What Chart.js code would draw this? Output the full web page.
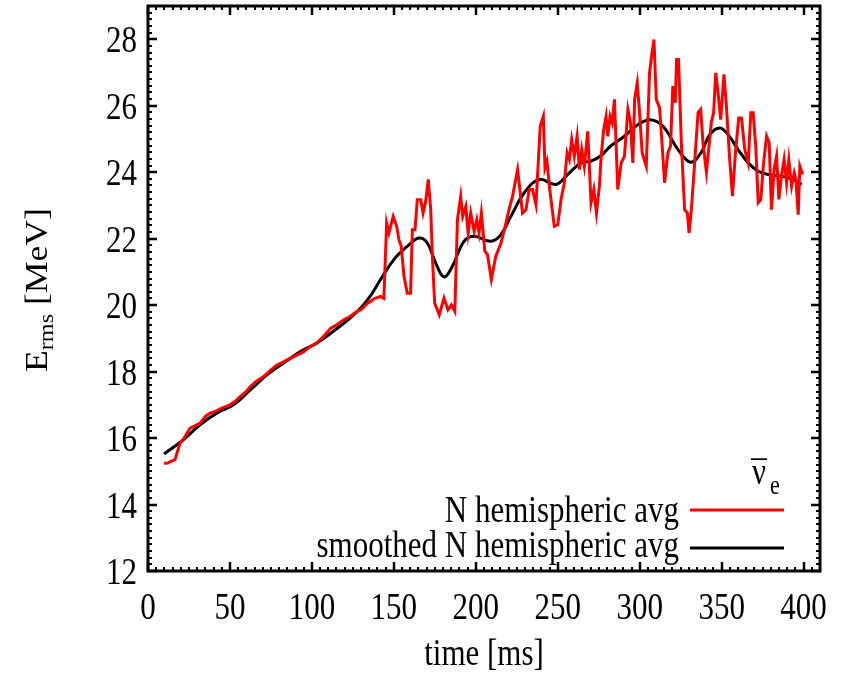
<!DOCTYPE html>
<html>
<head>
<meta charset="utf-8">
<title>E_rms vs time</title>
<script src="https://cdn.jsdelivr.net/npm/chart.js@4.4.0/dist/chart.umd.min.js"></script>
<style>
  html, body { margin: 0; padding: 0; background: #ffffff; }
  #wrap { width: 848px; height: 678px; }
</style>
</head>
<body>
<div id="wrap"><canvas id="c" width="848" height="678"></canvas></div>
<script>
// North hemispheric average of the anti-electron-neutrino rms energy
const redTime = [
  9.8, 12, 14, 16.5, 18, 19.6, 22, 25.7, 28, 31.8, 35, 37.9, 41, 45, 50, 53, 56.3, 60, 62.4, 66,
  70.5, 75, 78.7, 83, 86.8, 91, 95, 99, 103, 107, 111.3, 115, 119.5, 123, 127.6, 130, 133.8, 135.8, 138, 141.9,
  143.9, 145.6, 147, 149.6, 151.7, 153.1, 154.5, 156.2, 158.2, 160.2, 161.3, 162.9, 164.3, 166.4, 167.8, 169.4, 171, 172.5, 173.5, 174.9,
  177.7, 180.6, 183, 185.1, 187.2, 188.8, 190.8, 192, 193.9, 195.3, 196.9, 199, 200.6, 202, 203.4, 205.5, 207.1, 209.5, 212.2, 215.3,
  218.3, 220.4, 222.4, 225.5, 228.5, 230.6, 232.6, 234.6, 236.7, 239.3, 241.2, 242.2, 243.4, 245.1, 247.9, 250, 252, 254, 255.7, 257.1,
  258.5, 260.1, 261.8, 263.2, 264.6, 266.2, 268.3, 270.3, 272, 273.6, 275.4, 276.5, 278, 279.5, 280.5, 281.9, 283.2, 284.6, 286.6, 288.7,
  290.7, 292.8, 294.4, 295.8, 296.9, 298.5, 299.9, 301.5, 304, 306, 307.5, 308.7, 310.1, 312.1, 313.6, 315.2, 317.2, 318.8, 320.2, 321.7,
  322.5, 323.7, 325.4, 327.4, 329.1, 330.1, 331.5, 333.1, 334.6, 335.6, 337.2, 338.6, 340.7, 342.1, 343.7, 345.1, 346.4, 347.8, 349.4, 351.4,
  352.9, 354.9, 356.6, 358.4, 360.4, 362.1, 364.1, 366.2, 367.8, 369.2, 370.8, 372.3, 373.9, 375.4, 377.4, 379, 380.4, 382, 383.5, 384.9,
  386.5, 388.1, 389.6, 391, 392.7, 394.3, 395.3, 396.7, 397.7, 399.4
];
const redEnergy = [
  15.24, 15.25, 15.3, 15.36, 15.6, 15.85, 16.0, 16.3, 16.35, 16.45, 16.65, 16.75, 16.8, 16.9, 17.0, 17.1, 17.25, 17.4, 17.55, 17.7,
  17.85, 18.05, 18.2, 18.3, 18.4, 18.5, 18.6, 18.75, 18.86, 19.05, 19.3, 19.4, 19.56, 19.65, 19.81, 19.86, 20.05, 20.11, 20.2, 20.26,
  20.2, 22.47, 22.17, 22.67, 22.37, 21.97, 21.77, 20.86, 20.36, 20.36, 22.27, 22.27, 23.17, 23.17, 22.77, 23.12, 23.78, 22.87, 21.47, 20.06,
  19.71, 20.21, 19.86, 20.01, 19.81, 22.57, 23.27, 22.67, 22.97, 22.17, 22.77, 22.22, 22.57, 22.17, 22.77, 21.62, 21.52, 20.77, 21.47, 21.85,
  22.45, 22.9, 23.27, 24.08, 22.77, 22.87, 23.48, 23.48, 23.02, 25.38, 25.68, 24.13, 24.33, 23.48, 22.37, 22.42, 23.17, 23.68, 24.58, 24.38,
  24.98, 24.48, 25.08, 24.08, 24.68, 24.18, 25.23, 23.08, 23.48, 22.77, 23.58, 24.48, 25.28, 25.68, 25.08, 25.68, 25.48, 26.19, 23.48, 24.28,
  24.48, 25.89, 25.48, 24.28, 26.19, 26.69, 25.79, 24.58, 24.18, 26.99, 27.59, 27.99, 26.19, 25.94, 24.88, 23.68, 24.58, 24.78, 26.59, 26.09,
  27.39, 27.39, 24.88, 22.87, 22.77, 22.17, 22.87, 23.98, 25.08, 25.79, 25.89, 24.88, 24.0, 24.7, 25.5, 25.79, 26.99, 26.39, 25.58, 26.94,
  25.98, 24.38, 23.28, 24.58, 25.63, 25.63, 24.68, 24.28, 25.79, 25.79, 24.78, 23.08, 23.18, 24.18, 25.08, 24.88, 22.87, 24.08, 24.48, 23.18,
  23.88, 24.38, 23.68, 24.38, 23.58, 23.98, 23.78, 22.72, 24.18, 23.93
];

// Smoothed version of the same average
const smoothTime = [
  9.8, 21.6, 31.8, 42, 52.2, 62.4, 72.6, 82.8, 93, 103, 113, 123.5, 130.5, 136, 141.9, 150, 158.2, 165.3, 170.4, 175.5,
  180.6, 185.7, 192.8, 199, 209.2, 215.3, 221.4, 229.6, 238.7, 248.9, 256, 264.2, 270.3, 276.5, 282.1, 290.7, 298.8, 306.6, 314.2, 323.4,
  331.1, 337.6, 342.7, 348.8, 353.9, 360, 366.2, 372.3, 378.4, 386.5, 392.7, 398.8
];
const smoothEnergy = [
  15.52, 15.95, 16.4, 16.75, 17.0, 17.45, 17.9, 18.26, 18.6, 18.86, 19.21, 19.62, 19.95, 20.3, 20.77, 21.37, 21.77, 22.02, 21.87, 21.27,
  20.85, 21.17, 21.92, 22.07, 21.92, 22.12, 22.67, 23.38, 23.78, 23.63, 23.93, 24.28, 24.33, 24.5, 24.78, 25.08, 25.43, 25.58, 25.38, 24.68,
  24.3, 24.6, 25.13, 25.33, 25.13, 24.68, 24.28, 24.03, 23.93, 23.88, 23.8, 23.63
];

const seriesLabels = ['N hemispheric avg', 'smoothed N hemispheric avg'];
const xTickValues = [0, 50, 100, 150, 200, 250, 300, 350, 400];
const yTickValues = [12, 14, 16, 18, 20, 22, 24, 26, 28];
const xAxisTitle = 'time [ms]';
const yAxisTitle = { main: 'E', sub: 'rms', rest: ' [MeV]' };
const speciesLabel = { main: '\u03BD', bar: '\u00AF', sub: 'e' };

const FONT = '"Liberation Serif", "Times New Roman", serif';
const STRETCH = 1.25;

function toPoints(xs, ys) {
  return xs.map((x, i) => ({ x: x, y: ys[i] }));
}

function tallText(ctx, txt, x, y, align, size) {
  ctx.save();
  ctx.font = size + 'px ' + FONT;
  ctx.textAlign = align;
  ctx.textBaseline = 'alphabetic';
  ctx.translate(x, y);
  ctx.scale(1, STRETCH);
  ctx.fillText(txt, 0, 0);
  ctx.restore();
}

// gnuplot-style frame: thick border, inward major/minor ticks on all four sides,
// serif tick labels, axis titles and a right-aligned key
const framePlugin = {
  id: 'frame',
  afterDatasetsDraw(chart) {
    const ctx = chart.ctx;
    const a = chart.chartArea;
    const xs = chart.scales.x;
    const ys = chart.scales.y;
    ctx.save();
    ctx.strokeStyle = '#000';
    ctx.lineCap = 'butt';

    // minor ticks
    ctx.lineWidth = 2;
    ctx.beginPath();
    for (let v = xs.min; v <= xs.max + 1e-9; v += 5) {
      const p = Math.round(xs.getPixelForValue(v));
      ctx.moveTo(p, a.bottom); ctx.lineTo(p, a.bottom - 4);
      ctx.moveTo(p, a.top); ctx.lineTo(p, a.top + 4);
    }
    for (let v = ys.min; v <= ys.max + 1e-9; v += 0.2) {
      const p = Math.round(ys.getPixelForValue(v));
      ctx.moveTo(a.left, p); ctx.lineTo(a.left + 4, p);
      ctx.moveTo(a.right, p); ctx.lineTo(a.right - 4, p);
    }
    ctx.stroke();

    // major ticks
    ctx.lineWidth = 2.5;
    ctx.beginPath();
    xs.ticks.forEach(t => {
      const p = Math.round(xs.getPixelForValue(t.value));
      ctx.moveTo(p, a.bottom); ctx.lineTo(p, a.bottom - 9);
      ctx.moveTo(p, a.top); ctx.lineTo(p, a.top + 9);
    });
    ys.ticks.forEach(t => {
      const p = Math.round(ys.getPixelForValue(t.value));
      ctx.moveTo(a.left, p); ctx.lineTo(a.left + 9, p);
      ctx.moveTo(a.right, p); ctx.lineTo(a.right - 9, p);
    });
    ctx.stroke();

    // border
    ctx.lineWidth = 3;
    ctx.strokeRect(a.left, a.top, a.right - a.left, a.bottom - a.top);

    // tick labels
    ctx.fillStyle = '#000';
    xs.ticks.forEach(t => {
      tallText(ctx, String(t.value), xs.getPixelForValue(t.value), 619, 'center', 31);
    });
    ys.ticks.forEach(t => {
      tallText(ctx, String(t.value), 137, ys.getPixelForValue(t.value) + 13, 'right', 31);
    });

    // x title
    tallText(ctx, xAxisTitle, (a.left + a.right) / 2, 665, 'center', 31);

    // y title with subscript, rotated
    ctx.save();
    ctx.translate(47, 290);
    ctx.rotate(-Math.PI / 2);
    ctx.scale(1.15, 1);
    ctx.textBaseline = 'alphabetic';
    ctx.textAlign = 'left';
    ctx.font = '31px ' + FONT;
    const wMain = ctx.measureText(yAxisTitle.main).width;
    const wRest = ctx.measureText(yAxisTitle.rest).width;
    ctx.font = '21px ' + FONT;
    const wSub = ctx.measureText(yAxisTitle.sub).width;
    let sx = -(wMain + wSub + wRest) / 2;
    ctx.font = '31px ' + FONT;
    ctx.fillText(yAxisTitle.main, sx, 0);
    sx += wMain;
    ctx.font = '21px ' + FONT;
    ctx.fillText(yAxisTitle.sub, sx, 6);
    sx += wSub;
    ctx.font = '31px ' + FONT;
    ctx.fillText(yAxisTitle.rest, sx, 0);
    ctx.restore();

    // key
    const ds = chart.data.datasets;
    const keyRows = [
      { text: ds[0].label, color: ds[0].borderColor, width: 3, base: 522, line: 510 },
      { text: ds[1].label, color: ds[1].borderColor, width: 3, base: 557, line: 548 }
    ];
    keyRows.forEach(r => {
      tallText(ctx, r.text, 679, r.base, 'right', 31);
      ctx.strokeStyle = r.color;
      ctx.lineWidth = r.width;
      ctx.beginPath();
      ctx.moveTo(690, r.line);
      ctx.lineTo(784, r.line);
      ctx.stroke();
    });
    // species symbol: nu with an overbar, subscript e
    ctx.save();
    ctx.font = '31px ' + FONT;
    const wNu = ctx.measureText(speciesLabel.main).width;
    ctx.restore();
    tallText(ctx, speciesLabel.main, 752, 484, 'left', 31);
    tallText(ctx, speciesLabel.bar, 752 + wNu / 2, 487, 'center', 31);
    tallText(ctx, speciesLabel.sub, 770, 494, 'left', 22);

    ctx.restore();
  }
};

new Chart(document.getElementById('c'), {
  type: 'line',
  data: {
    datasets: [
      {
        label: seriesLabels[0],
        data: toPoints(redTime, redEnergy),
        borderColor: '#ff0000',
        borderWidth: 3,
        pointRadius: 0,
        tension: 0,
        fill: false
      },
      {
        label: seriesLabels[1],
        data: toPoints(smoothTime, smoothEnergy),
        borderColor: '#000000',
        borderWidth: 3,
        pointRadius: 0,
        tension: 0.4,
        fill: false
      }
    ]
  },
  options: {
    responsive: false,
    animation: false,
    events: [],
    layout: { padding: { left: 0, right: 28, top: 6, bottom: 0 } },
    plugins: { legend: { display: false }, title: { display: false }, tooltip: { enabled: false } },
    scales: {
      x: {
        type: 'linear',
        min: 0,
        max: 410,
        grid: { display: false },
        border: { display: false },
        ticks: { display: false },
        afterBuildTicks: s => { s.ticks = xTickValues.map(v => ({ value: v })); },
        afterFit: s => { s.height = 107; }
      },
      y: {
        type: 'linear',
        min: 12,
        max: 29,
        grid: { display: false },
        border: { display: false },
        ticks: { display: false },
        afterBuildTicks: s => { s.ticks = yTickValues.map(v => ({ value: v })); },
        afterFit: s => { s.width = 148; }
      }
    }
  },
  plugins: [framePlugin]
});
</script>
</body>
</html>
